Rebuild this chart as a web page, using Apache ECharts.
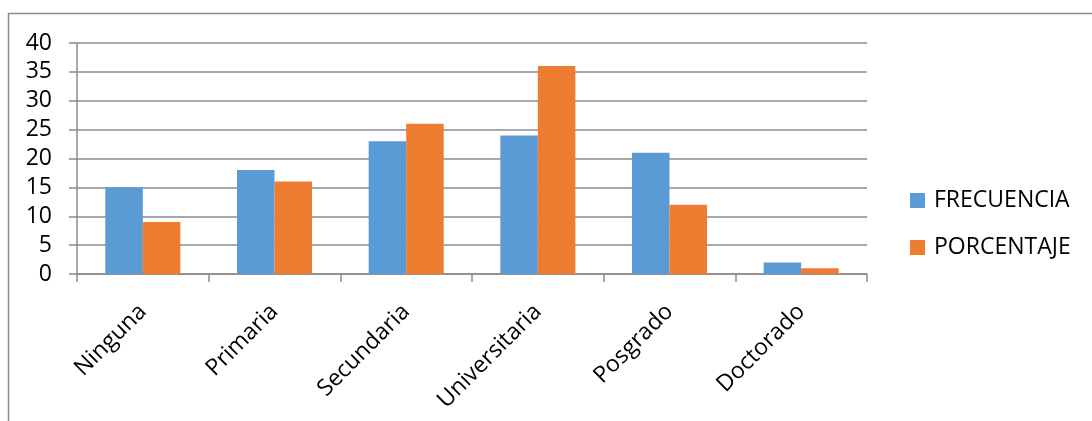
<!DOCTYPE html>
<html><head><meta charset="utf-8">
<script src="https://cdn.jsdelivr.net/npm/echarts@6/dist/echarts.min.js"></script>
<style>html,body{margin:0;padding:0;background:#fff}#c{width:1092px;height:421px}</style>
</head><body><div id="c"></div>
<script>
const categories = ['Ninguna','Primaria','Secundaria','Universitaria','Posgrado','Doctorado'];
const frecuencia = [15,18,23,24,21,2];
const porcentaje = [9,16,26,36,12,1];
const seriesNames = ['FRECUENCIA','PORCENTAJE'];
const FONT = '"Open Sans", sans-serif';
const chart = echarts.init(document.getElementById('c'), null, {renderer:'canvas'});
chart.setOption({
  animation:false,
  backgroundColor:'#fff',
  graphic:[{type:'rect',shape:{x:8.5,y:13.5,width:1200,height:600},style:{fill:'none',stroke:'#8c8c8c',lineWidth:1.5},silent:true}],
  grid:{left:77,right:1092-867,top:43,bottom:421-274,containLabel:false},
  legend:{orient:'vertical',left:905,top:184,itemWidth:15,itemHeight:15,itemGap:24,icon:'rect',
    textStyle:{fontFamily:FONT,fontSize:23,lineHeight:23,color:'#000',padding:[0,0,0,4]},data:seriesNames},
  xAxis:{type:'category',data:categories,
    axisLine:{lineStyle:{color:'#8c8c8c',width:1.5}},
    axisTick:{show:true,length:8,lineStyle:{color:'#8c8c8c',width:1.5}},
    axisLabel:{rotate:45,margin:34,fontFamily:FONT,fontSize:23,color:'#000',interval:0}},
  yAxis:{type:'value',min:0,max:40,interval:5,
    axisLine:{show:true,lineStyle:{color:'#8c8c8c',width:1.5}},
    axisTick:{show:true,length:8,lineStyle:{color:'#8c8c8c',width:1.5}},
    splitLine:{lineStyle:{color:'#8c8c8c',width:1.5}},
    axisLabel:{margin:25,fontFamily:FONT,fontSize:23,color:'#000'}},
  series:[
    {name:seriesNames[0],type:'bar',data:frecuencia,itemStyle:{color:'#5B9BD5'},barGap:'0%',barCategoryGap:'43%'},
    {name:seriesNames[1],type:'bar',data:porcentaje,itemStyle:{color:'#ED7D31'},barGap:'0%',barCategoryGap:'43%'}
  ]
});
</script></body></html>
